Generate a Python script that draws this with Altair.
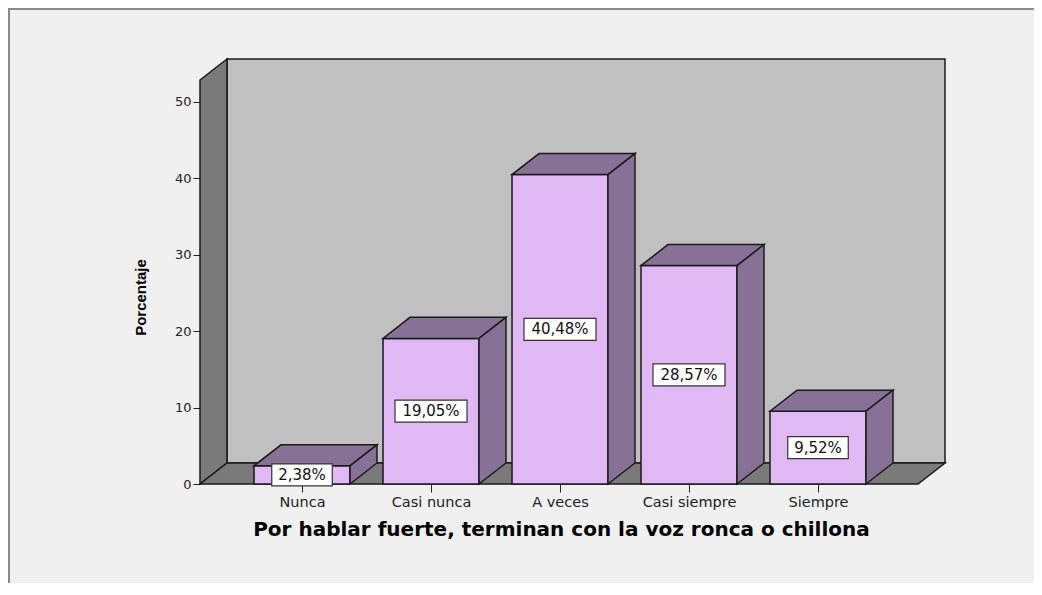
import altair as alt
import pandas as pd

categories = ["Nunca", "Casi nunca", "A veces", "Casi siempre", "Siempre"]
values = [2.38, 19.05, 40.48, 28.57, 9.52]
labels = ["2,38%", "19,05%", "40,48%", "28,57%", "9,52%"]
y_ticks = [0, 10, 20, 30, 40, 50]

# geometry in data units (category index on x, percent on y)
XMIN, XMAX = -0.7907, 4.9845
DX, DY = 0.2093, 2.75
HALF = 0.372
WALL_TOP = 52.85
YMAX = WALL_TOP + DY

FRONT = "#E0B8F4"
SHADE = "#887196"
WALL = "#C0C0C0"
DARK = "#7A7A7A"
EDGE = "#1a1a1a"

xs = alt.Scale(domain=[XMIN, XMAX], nice=False, zero=False)
ys = alt.Scale(domain=[0, YMAX], nice=False, zero=False)

label_expr = "[" + ",".join("'" + c + "'" for c in categories) + "][datum.value]"
x_axis = alt.Axis(
    values=list(range(len(categories))), labelExpr=label_expr, grid=False, domain=False,
    tickSize=8, tickColor="#222", labelFont="DejaVu Sans", labelFontSize=14.5, labelColor="#222",
    labelPadding=3, title="Por hablar fuerte, terminan con la voz ronca o chillona",
    titleFont="DejaVu Sans", titleFontSize=20, titleFontWeight="bold", titleColor="#000",
    titlePadding=11, titleX=361)
y_axis = alt.Axis(
    values=y_ticks, grid=False, domain=False, tickSize=7, tickColor="#222",
    labelFont="DejaVu Sans", labelFontSize=13, labelColor="#222", labelPadding=2,
    title="Porcentaje", titleFont="Liberation Sans", titleFontSize=15,
    titleFontWeight="bold", titleColor="#000", titleX=-52, titleY=238)

def X(f):
    return alt.X(f, scale=xs, axis=x_axis)

def Y(f):
    return alt.Y(f, scale=ys, axis=y_axis)

# back wall
back = pd.DataFrame({"x": [XMIN + DX], "x2": [XMAX], "y": [DY], "y2": [YMAX]})
# side wall and floor polygons
env_rows = []
env_rows += [dict(id="wall", x=XMIN, y=0, y2=WALL_TOP), dict(id="wall", x=XMIN + DX, y=DY, y2=YMAX)]
xr = XMAX - DX
env_rows += [dict(id="floor", x=XMIN, y=0, y2=0), dict(id="floor", x=XMIN + DX, y=0, y2=DY),
             dict(id="floor", x=xr, y=0, y2=DY), dict(id="floor", x=XMAX, y=DY, y2=DY)]
env = pd.DataFrame(env_rows)

fronts = pd.DataFrame({
    "cat": categories,
    "x": [i - HALF for i in range(len(values))],
    "x2": [i + HALF for i in range(len(values))],
    "v": values,
    "z": [0] * len(values),
})

shade_rows = []
for i, (c, v) in enumerate(zip(categories, values)):
    x0, x1 = i - HALF, i + HALF
    tid, sid = f"top{i}", f"side{i}"
    shade_rows += [dict(id=tid, x=x0, y=v, y2=v), dict(id=tid, x=x0 + DX, y=v, y2=v + DY),
                   dict(id=tid, x=x1, y=v, y2=v + DY), dict(id=tid, x=x1 + DX, y=v + DY, y2=v + DY)]
    shade_rows += [dict(id=sid, x=x1, y=0, y2=v), dict(id=sid, x=x1 + DX, y=DY, y2=v + DY)]
shades = pd.DataFrame(shade_rows)

PX_X, PX_Y = 129.0, 425 / YMAX
boxes = pd.DataFrame({
    "x": [i - (len(t) * 11.5 + 3) / 2 / PX_X for i, t in enumerate(labels)],
    "x2": [i + (len(t) * 11.5 + 3) / 2 / PX_X for i, t in enumerate(labels)],
    "y": [v / 2 - 11 / PX_Y for v in values],
    "y2": [v / 2 + 11 / PX_Y for v in values],
})
texts = pd.DataFrame({"x": list(range(len(values))), "y": [v / 2 for v in values], "t": labels})

base_back = alt.Chart(back).mark_rect(fill=WALL, stroke=EDGE, strokeWidth=1.5).encode(
    x=X("x:Q"), x2="x2:Q", y=Y("y:Q"), y2="y2:Q",
)

env_layer = alt.Chart(env).mark_area(fill=DARK, stroke=EDGE, strokeWidth=1.5, fillOpacity=1).encode(
    x=X("x:Q"), y=Y("y:Q"), y2="y2:Q", detail="id:N"
)

front_layer = alt.Chart(fronts).mark_rect(fill=FRONT, stroke=EDGE, strokeWidth=1.5).encode(
    x=X("x:Q"), x2="x2:Q", y=Y("v:Q"), y2="z:Q",
)

shade_layer = alt.Chart(shades).mark_area(fill=SHADE, stroke=EDGE, strokeWidth=1.5, fillOpacity=1).encode(
    x=X("x:Q"), y=Y("y:Q"), y2="y2:Q", detail="id:N"
)

box_layer = alt.Chart(boxes).mark_rect(fill="white", stroke="#333", strokeWidth=1.2).encode(
    x=X("x:Q"), x2="x2:Q", y=Y("y:Q"), y2="y2:Q",
)

text_layer = alt.Chart(texts).mark_text(font="DejaVu Sans", fontSize=15, color="#111", baseline="middle", align="center").encode(
    x=X("x:Q"), y=Y("y:Q"), text="t:N"
)

frame_top = alt.Chart(back).mark_rule(color="#8a8a8a", strokeWidth=2).encode(
    x=alt.value(-192), x2=alt.value(840), y=alt.value(-50)
)
frame_left = alt.Chart(back).mark_rule(color="#8a8a8a", strokeWidth=2).encode(
    x=alt.value(-191), y=alt.value(-51), y2=alt.value(530)
)

chart = alt.layer(base_back, env_layer, front_layer, shade_layer, box_layer, text_layer,
                  frame_top, frame_left).properties(
    width=745, height=425,
    background="#F0F0F0",
    padding={"left": 192, "top": 51, "right": 89, "bottom": 99},
    autosize=alt.AutoSizeParams(type="none"),
).configure_view(stroke=None)

chart.save("out.html", embed_options={"renderer": "svg", "actions": False})
